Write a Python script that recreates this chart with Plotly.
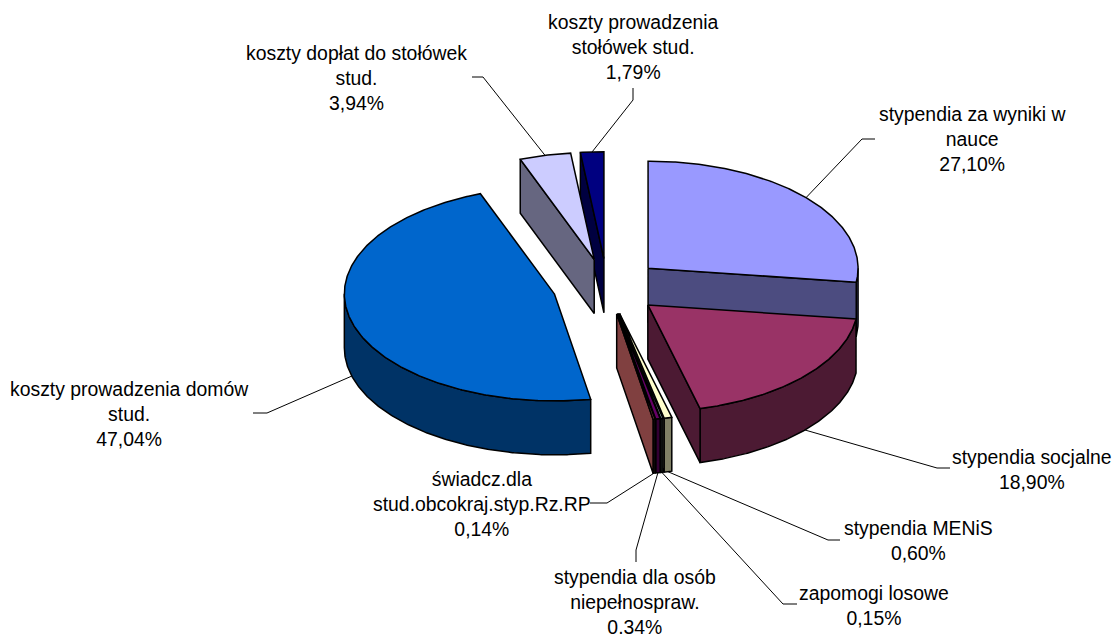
import numpy as np
import plotly.graph_objects as go

# ---------------- data ----------------
categories = [
    "stypendia za wyniki w<br>nauce",
    "stypendia socjalne",
    "stypendia MENiS",
    "zapomogi losowe",
    "stypendia dla osób<br>niepełnospraw.",
    "świadcz.dla<br>stud.obcokraj.styp.Rz.RP",
    "koszty prowadzenia domów<br>stud.",
    "koszty dopłat do stołówek<br>stud.",
    "koszty prowadzenia<br>stołówek stud.",
]
values = [27.10, 18.90, 0.60, 0.15, 0.34, 0.14, 47.04, 3.94, 1.79]
percent_labels = ["27,10%", "18,90%", "0,60%", "0,15%", "0.34%", "0,14%", "47,04%", "3,94%", "1,79%"]

# ---------------- style ----------------
colors = ["#9999FF", "#993366", "#FFFFCC", "#CCFFFF", "#660066", "#FF8080", "#0066CC", "#CCCCFF", "#000080"]
W, H_PAGE = 1115, 638
CX, CY = 607.0, 286.5        # pie centre (px)
RX, RY = 210.0, 107.0        # px per unit radius horizontally / vertically (tilt)
DEPTH = 54.0 / RY            # pie thickness in y units
EXPLODE = 0.26               # explosion as fraction of radius
FONT = dict(family="Liberation Sans, Arial, sans-serif", size=19.4, color="black")

# label block centres and leader elbows (px)
label_pos = [(972, 139), (1032, 469.5), (918, 540.5), (874, 605.5), (635, 602),
             (482, 504), (129, 414), (356, 78), (633, 47)]
leader_pts = [[(875, 139), (862, 139)], [(950, 468), (937, 468)], [(840, 540), (828, 540)],
              [(797, 604), (783, 604)], [(636, 562), (636, 550)], [(590, 503), (607, 503)],
              [(253, 413), (267, 413)], [(472, 77), (483, 77)], [(633, 88), (633, 100)]]


def px2x(px):
    return (px - CX) / RX


def px2y(py):
    return (CY - py) / RY


def darker(hexcol, f=0.5):
    h = hexcol.lstrip("#")
    r, g, b = (int(h[i:i + 2], 16) for i in (0, 2, 4))
    return "rgb(%d,%d,%d)" % (round(r * f), round(g * f), round(b * f))


total = sum(values)
bounds = np.concatenate([[0], np.cumsum(values)]) / total * 360.0

slices = []
for i, v in enumerate(values):
    a0, a1 = bounds[i], bounds[i + 1]
    mid = np.radians((a0 + a1) / 2)
    dx, dy = EXPLODE * np.sin(mid), EXPLODE * np.cos(mid)
    slices.append(dict(i=i, a0=a0, a1=a1, mid=mid, dx=dx, dy=dy))


def arc(s, t0, t1, z=0.0):
    n = max(2, int(abs(t1 - t0) * 2) + 2)
    t = np.radians(np.linspace(t0, t1, n))
    return list(s["dx"] + np.sin(t)), list(s["dy"] + np.cos(t) - z * DEPTH)


fig = go.Figure()


def poly(xs, ys, fill):
    xs = list(xs) + [xs[0]]
    ys = list(ys) + [ys[0]]
    fig.add_trace(go.Scatter(x=xs, y=ys, mode="lines", fill="toself", fillcolor=fill,
                             line=dict(color="black", width=1.5), hoverinfo="skip",
                             showlegend=False))


# painter's order: back (large dy) first
for s in sorted(slices, key=lambda s: -s["dy"]):
    col = colors[s["i"]]
    side = darker(col)
    a0, a1 = s["a0"], s["a1"]
    # outer wall (front half only)
    t0, t1 = max(a0, 90.0), min(a1, 270.0)
    if t1 > t0:
        xt, yt = arc(s, t0, t1, 0)
        xb, yb = arc(s, t1, t0, 1)
        poly(xt + xb, yt + yb, side)
    # cut faces
    for ang, vis in ((a0, np.sin(np.radians(a0)) < -1e-9), (a1, np.sin(np.radians(a1)) > 1e-9)):
        if vis:
            r = np.radians(ang)
            cx, cy = s["dx"], s["dy"]
            ex, ey = cx + np.sin(r), cy + np.cos(r)
            poly([cx, ex, ex, cx], [cy, ey, ey - DEPTH, cy - DEPTH], side)
    # top face
    xt, yt = arc(s, a0, a1, 0)
    poly([s["dx"]] + xt, [s["dy"]] + yt, col)

# leader lines and labels
for s in slices:
    i = s["i"]
    ax = s["dx"] + np.sin(s["mid"])
    ay = s["dy"] + np.cos(s["mid"])
    if np.cos(s["mid"]) < 0:
        ay -= DEPTH
    pts = leader_pts[i]
    xs = [px2x(p[0]) for p in pts] + [ax]
    ys = [px2y(p[1]) for p in pts] + [ay]
    fig.add_trace(go.Scatter(x=xs, y=ys, mode="lines", line=dict(color="black", width=1),
                             hoverinfo="skip", showlegend=False))
    lx, ly = label_pos[i]
    fig.add_annotation(x=px2x(lx), y=px2y(ly), xref="x", yref="y",
                       text=categories[i] + "<br>" + percent_labels[i],
                       showarrow=False, xanchor="center", yanchor="middle",
                       align="center", font=FONT)

fig.update_layout(
    width=W, height=H_PAGE, autosize=False,
    margin=dict(l=0, r=0, t=0, b=0, pad=0),
    paper_bgcolor="white", plot_bgcolor="white",
    xaxis=dict(range=[px2x(0), px2x(W)], visible=False, fixedrange=True),
    yaxis=dict(range=[px2y(H_PAGE), px2y(0)], visible=False, fixedrange=True),
    showlegend=False,
)

fig.write_html("out.html", config={"displayModeBar": False, "staticPlot": True},
               post_script="document.body.style.margin='0';document.body.style.overflow='hidden';")
